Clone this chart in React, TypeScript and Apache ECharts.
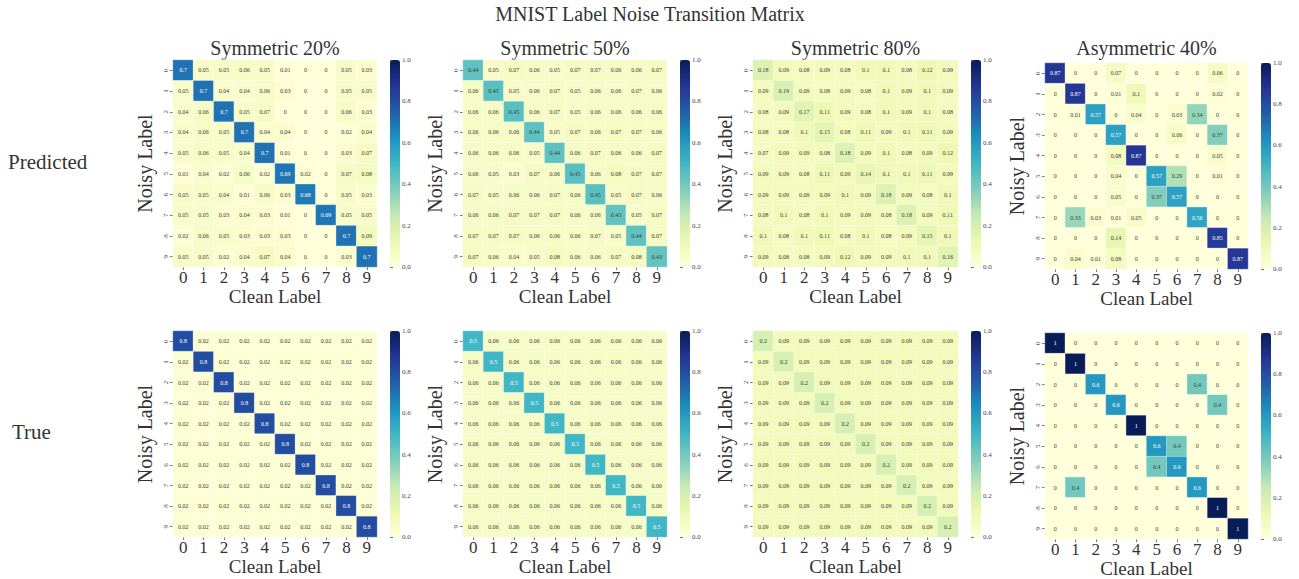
import React, { useEffect, useRef } from 'react';
import * as echarts from 'echarts';

const CLASSES = ['0', '1', '2', '3', '4', '5', '6', '7', '8', '9'];
const PANEL_TITLES = ['Symmetric 20%', 'Symmetric 50%', 'Symmetric 80%', 'Asymmetric 40%'];
const ROW_LABELS = ['Predicted', 'True'];
const MAIN_TITLE = 'MNIST Label Noise Transition Matrix';
const X_NAME = 'Clean Label';
const Y_NAME = 'Noisy Label';
const YLGNBU = ['#ffffd9', '#edf8b1', '#c7e9b4', '#7fcdbb', '#41b6c4', '#1d91c0', '#225ea8', '#253494', '#081d58'];

// rows = noisy label, columns = clean label
const SYM20_PRED = [
  [0.7, 0.05, 0.05, 0.06, 0.05, 0.01, 0, 0, 0.05, 0.03],
  [0.05, 0.7, 0.04, 0.04, 0.06, 0.03, 0, 0, 0.05, 0.05],
  [0.04, 0.06, 0.7, 0.05, 0.07, 0, 0, 0, 0.06, 0.03],
  [0.04, 0.06, 0.05, 0.7, 0.04, 0.04, 0, 0, 0.02, 0.04],
  [0.05, 0.06, 0.05, 0.04, 0.7, 0.01, 0, 0, 0.03, 0.07],
  [0.01, 0.04, 0.02, 0.06, 0.02, 0.69, 0.02, 0, 0.07, 0.08],
  [0.05, 0.05, 0.04, 0.01, 0.06, 0.03, 0.68, 0, 0.05, 0.03],
  [0.05, 0.05, 0.03, 0.04, 0.03, 0.01, 0, 0.69, 0.05, 0.05],
  [0.02, 0.06, 0.05, 0.03, 0.03, 0.03, 0, 0, 0.7, 0.09],
  [0.05, 0.05, 0.02, 0.04, 0.07, 0.04, 0, 0, 0.03, 0.7],
];
const SYM50_PRED = [
  [0.44, 0.05, 0.07, 0.06, 0.05, 0.07, 0.07, 0.06, 0.06, 0.07],
  [0.06, 0.45, 0.05, 0.06, 0.07, 0.05, 0.06, 0.06, 0.07, 0.06],
  [0.06, 0.06, 0.45, 0.06, 0.07, 0.05, 0.06, 0.06, 0.06, 0.06],
  [0.06, 0.06, 0.06, 0.44, 0.05, 0.07, 0.06, 0.07, 0.07, 0.06],
  [0.06, 0.06, 0.06, 0.05, 0.44, 0.06, 0.07, 0.06, 0.06, 0.07],
  [0.06, 0.05, 0.03, 0.07, 0.06, 0.45, 0.06, 0.08, 0.07, 0.07],
  [0.07, 0.05, 0.06, 0.06, 0.07, 0.06, 0.45, 0.05, 0.07, 0.06],
  [0.06, 0.06, 0.07, 0.07, 0.07, 0.06, 0.06, 0.43, 0.05, 0.07],
  [0.07, 0.07, 0.07, 0.06, 0.06, 0.06, 0.07, 0.05, 0.44, 0.07],
  [0.07, 0.06, 0.04, 0.05, 0.08, 0.06, 0.06, 0.07, 0.08, 0.43],
];
const SYM80_PRED = [
  [0.18, 0.09, 0.08, 0.09, 0.08, 0.1, 0.1, 0.08, 0.12, 0.09],
  [0.09, 0.19, 0.09, 0.08, 0.09, 0.08, 0.1, 0.09, 0.1, 0.09],
  [0.08, 0.09, 0.17, 0.11, 0.09, 0.08, 0.1, 0.09, 0.1, 0.08],
  [0.08, 0.08, 0.1, 0.15, 0.08, 0.11, 0.09, 0.1, 0.11, 0.09],
  [0.07, 0.09, 0.09, 0.08, 0.18, 0.09, 0.1, 0.08, 0.09, 0.12],
  [0.09, 0.09, 0.08, 0.11, 0.09, 0.14, 0.1, 0.1, 0.11, 0.09],
  [0.09, 0.09, 0.09, 0.09, 0.1, 0.09, 0.18, 0.09, 0.08, 0.1],
  [0.08, 0.1, 0.08, 0.1, 0.09, 0.09, 0.08, 0.18, 0.09, 0.11],
  [0.1, 0.08, 0.1, 0.11, 0.08, 0.1, 0.08, 0.09, 0.15, 0.1],
  [0.09, 0.08, 0.08, 0.09, 0.12, 0.09, 0.09, 0.1, 0.1, 0.16],
];
const ASYM40_PRED = [
  [0.87, 0, 0, 0.07, 0, 0, 0, 0, 0.06, 0],
  [0, 0.87, 0, 0.01, 0.1, 0, 0, 0, 0.02, 0],
  [0, 0.01, 0.57, 0, 0.04, 0, 0.03, 0.34, 0, 0],
  [0, 0, 0, 0.57, 0, 0, 0.06, 0, 0.37, 0],
  [0, 0, 0, 0.08, 0.87, 0, 0, 0, 0.05, 0],
  [0, 0, 0, 0.04, 0, 0.57, 0.29, 0, 0.01, 0],
  [0, 0, 0, 0.05, 0, 0.37, 0.57, 0, 0, 0],
  [0, 0.33, 0.03, 0.01, 0.05, 0, 0, 0.56, 0, 0],
  [0, 0, 0, 0.14, 0, 0, 0, 0, 0.85, 0],
  [0, 0.04, 0.01, 0.08, 0, 0, 0, 0, 0, 0.87],
];
const SYM20_TRUE = [
  [0.8, 0.02, 0.02, 0.02, 0.02, 0.02, 0.02, 0.02, 0.02, 0.02],
  [0.02, 0.8, 0.02, 0.02, 0.02, 0.02, 0.02, 0.02, 0.02, 0.02],
  [0.02, 0.02, 0.8, 0.02, 0.02, 0.02, 0.02, 0.02, 0.02, 0.02],
  [0.02, 0.02, 0.02, 0.8, 0.02, 0.02, 0.02, 0.02, 0.02, 0.02],
  [0.02, 0.02, 0.02, 0.02, 0.8, 0.02, 0.02, 0.02, 0.02, 0.02],
  [0.02, 0.02, 0.02, 0.02, 0.02, 0.8, 0.02, 0.02, 0.02, 0.02],
  [0.02, 0.02, 0.02, 0.02, 0.02, 0.02, 0.8, 0.02, 0.02, 0.02],
  [0.02, 0.02, 0.02, 0.02, 0.02, 0.02, 0.02, 0.8, 0.02, 0.02],
  [0.02, 0.02, 0.02, 0.02, 0.02, 0.02, 0.02, 0.02, 0.8, 0.02],
  [0.02, 0.02, 0.02, 0.02, 0.02, 0.02, 0.02, 0.02, 0.02, 0.8],
];
const SYM50_TRUE = [
  [0.5, 0.06, 0.06, 0.06, 0.06, 0.06, 0.06, 0.06, 0.06, 0.06],
  [0.06, 0.5, 0.06, 0.06, 0.06, 0.06, 0.06, 0.06, 0.06, 0.06],
  [0.06, 0.06, 0.5, 0.06, 0.06, 0.06, 0.06, 0.06, 0.06, 0.06],
  [0.06, 0.06, 0.06, 0.5, 0.06, 0.06, 0.06, 0.06, 0.06, 0.06],
  [0.06, 0.06, 0.06, 0.06, 0.5, 0.06, 0.06, 0.06, 0.06, 0.06],
  [0.06, 0.06, 0.06, 0.06, 0.06, 0.5, 0.06, 0.06, 0.06, 0.06],
  [0.06, 0.06, 0.06, 0.06, 0.06, 0.06, 0.5, 0.06, 0.06, 0.06],
  [0.06, 0.06, 0.06, 0.06, 0.06, 0.06, 0.06, 0.5, 0.06, 0.06],
  [0.06, 0.06, 0.06, 0.06, 0.06, 0.06, 0.06, 0.06, 0.5, 0.06],
  [0.06, 0.06, 0.06, 0.06, 0.06, 0.06, 0.06, 0.06, 0.06, 0.5],
];
const SYM80_TRUE = [
  [0.2, 0.09, 0.09, 0.09, 0.09, 0.09, 0.09, 0.09, 0.09, 0.09],
  [0.09, 0.2, 0.09, 0.09, 0.09, 0.09, 0.09, 0.09, 0.09, 0.09],
  [0.09, 0.09, 0.2, 0.09, 0.09, 0.09, 0.09, 0.09, 0.09, 0.09],
  [0.09, 0.09, 0.09, 0.2, 0.09, 0.09, 0.09, 0.09, 0.09, 0.09],
  [0.09, 0.09, 0.09, 0.09, 0.2, 0.09, 0.09, 0.09, 0.09, 0.09],
  [0.09, 0.09, 0.09, 0.09, 0.09, 0.2, 0.09, 0.09, 0.09, 0.09],
  [0.09, 0.09, 0.09, 0.09, 0.09, 0.09, 0.2, 0.09, 0.09, 0.09],
  [0.09, 0.09, 0.09, 0.09, 0.09, 0.09, 0.09, 0.2, 0.09, 0.09],
  [0.09, 0.09, 0.09, 0.09, 0.09, 0.09, 0.09, 0.09, 0.2, 0.09],
  [0.09, 0.09, 0.09, 0.09, 0.09, 0.09, 0.09, 0.09, 0.09, 0.2],
];
const ASYM40_TRUE = [
  [1, 0, 0, 0, 0, 0, 0, 0, 0, 0],
  [0, 1, 0, 0, 0, 0, 0, 0, 0, 0],
  [0, 0, 0.6, 0, 0, 0, 0, 0.4, 0, 0],
  [0, 0, 0, 0.6, 0, 0, 0, 0, 0.4, 0],
  [0, 0, 0, 0, 1, 0, 0, 0, 0, 0],
  [0, 0, 0, 0, 0, 0.6, 0.4, 0, 0, 0],
  [0, 0, 0, 0, 0, 0.4, 0.6, 0, 0, 0],
  [0, 0.4, 0, 0, 0, 0, 0, 0.6, 0, 0],
  [0, 0, 0, 0, 0, 0, 0, 0, 1, 0],
  [0, 0, 0, 0, 0, 0, 0, 0, 0, 1],
];

const MATRICES = [
  [SYM20_PRED, SYM50_PRED, SYM80_PRED, ASYM40_PRED],
  [SYM20_TRUE, SYM50_TRUE, SYM80_TRUE, ASYM40_TRUE],
];

// layout (pixels)
const FONT = 'Liberation Serif';
const COL_LEFT = [173, 463, 753, 1045];
const COL_WIDTH = [204, 204, 205, 203];
const CB_LEFT = [390, 680, 971, 1261];
const ROW_TOP = [[60, 60, 60, 63], [331, 331, 331, 333]];
const ROW_HEIGHT = [[207, 207, 207, 206], [206, 206, 206, 206]];
const ROW_LABEL_POS = [[8, 162], [12, 432]];

export default function App() {
  const ref = useRef<HTMLDivElement>(null);
  useEffect(() => {
    if (!ref.current) return;
    const chart = echarts.init(ref.current, undefined, { renderer: 'svg' });
    const grid: any[] = [];
    const xAxis: any[] = [];
    const yAxis: any[] = [];
    const series: any[] = [];
    const visualMap: any[] = [];
    const graphic: any[] = [];

    let idx = 0;
    for (let r = 0; r < 2; r++) {
      for (let c = 0; c < 4; c++) {
        const mat = MATRICES[r][c];
        const top = ROW_TOP[r][c];
        const h = ROW_HEIGHT[r][c];
        grid.push({ left: COL_LEFT[c], top, width: COL_WIDTH[c], height: h, containLabel: false });
        xAxis.push({
          type: 'category', gridIndex: idx, data: CLASSES, position: 'bottom',
          axisLine: { show: false },
          axisTick: { show: true, alignWithLabel: true, length: 3, lineStyle: { color: '#555', width: 0.8 } },
          axisLabel: { fontFamily: FONT, fontSize: 17, color: '#333', margin: 2 },
          splitLine: { show: false },
          name: X_NAME, nameLocation: 'middle', nameGap: 16,
          nameTextStyle: { fontFamily: FONT, fontSize: 19, color: '#333' },
        });
        yAxis.push({
          type: 'category', gridIndex: idx, data: CLASSES, inverse: true,
          axisLine: { show: false },
          axisTick: { show: true, alignWithLabel: true, length: 3, lineStyle: { color: '#555', width: 0.8 } },
          axisLabel: { fontFamily: FONT, fontSize: 7, color: '#444', rotate: 90, margin: 4 },
          splitLine: { show: false },
          name: Y_NAME, nameLocation: 'middle', nameGap: 18,
          nameTextStyle: { fontFamily: FONT, fontSize: 20, color: '#333' },
        });
        const data: any[] = [];
        for (let i = 0; i < 10; i++) {
          for (let j = 0; j < 10; j++) {
            const v = mat[i][j];
            data.push({ value: [j, i, v], label: { color: v >= 0.48 ? '#ffffff' : '#3a3a3a' } });
          }
        }
        series.push({
          type: 'heatmap', xAxisIndex: idx, yAxisIndex: idx, data,
          itemStyle: { borderColor: 'rgba(255,255,255,0.6)', borderWidth: 0.6 },
          label: {
            show: true, fontFamily: FONT, fontSize: 6,
            formatter: (p: any) => String(p.value[2]),
          },
          emphasis: { disabled: true },
        });
        visualMap.push({
          type: 'continuous', seriesIndex: idx, min: 0, max: 1,
          inRange: { color: YLGNBU }, show: true, calculable: false,
          left: CB_LEFT[c], top, itemWidth: 10, itemHeight: h, padding: 0,
          text: undefined,
        });
        idx++;
      }
    }
    // colorbar tick axes
    for (let r = 0; r < 2; r++) {
      for (let c = 0; c < 4; c++) {
        const top = ROW_TOP[r][c];
        const h = ROW_HEIGHT[r][c];
        grid.push({ left: CB_LEFT[c], top, width: 10, height: h });
        xAxis.push({ type: 'value', gridIndex: idx, show: false, min: 0, max: 1 });
        yAxis.push({
          type: 'value', gridIndex: idx, min: 0, max: 1, interval: 0.2, position: 'right',
          axisLine: { show: false },
          axisTick: { show: true, length: 3, lineStyle: { color: '#555', width: 0.8 } },
          axisLabel: { fontFamily: FONT, fontSize: 7, color: '#444', margin: 2, formatter: (v: number) => v.toFixed(1) },
          splitLine: { show: false },
        });
        series.push({ type: 'line', xAxisIndex: idx, yAxisIndex: idx, data: [], silent: true });
        idx++;
      }
    }

    graphic.push({
      type: 'text', x: 650, y: 14,
      style: { text: MAIN_TITLE, fontFamily: FONT, fontSize: 20, fill: '#333', align: 'center', verticalAlign: 'middle' },
    });
    for (let c = 0; c < 4; c++) {
      graphic.push({
        type: 'text', x: COL_LEFT[c] + COL_WIDTH[c] / 2, y: 48,
        style: { text: PANEL_TITLES[c], fontFamily: FONT, fontSize: 20, fill: '#333', align: 'center', verticalAlign: 'middle' },
      });
    }
    for (let r = 0; r < 2; r++) {
      graphic.push({
        type: 'text', x: ROW_LABEL_POS[r][0], y: ROW_LABEL_POS[r][1],
        style: { text: ROW_LABELS[r], fontFamily: FONT, fontSize: 21, fill: '#333', align: 'left', verticalAlign: 'middle' },
      });
    }

    chart.setOption({
      animation: false,
      backgroundColor: '#ffffff',
      textStyle: { fontFamily: FONT },
      grid, xAxis, yAxis, series, visualMap, graphic,
    });
    return () => chart.dispose();
  }, []);
  return <div ref={ref} style={{ position: 'fixed', left: 0, top: 0, width: 1299, height: 579 }} />;
}
